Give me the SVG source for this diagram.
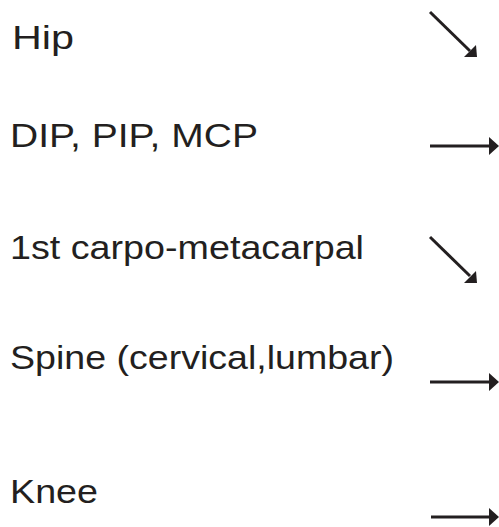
<svg xmlns="http://www.w3.org/2000/svg" width="499" height="527" viewBox="0 0 499 527">
<style>
.t{font-family:"Liberation Sans",Arial,sans-serif;font-size:34px;fill:#231f20}
.a{stroke:#231f20;stroke-width:3;fill:none}
.h{fill:#231f20}
</style>
<rect width="499" height="527" fill="#fff"/>
<g id="hip"><text class="t" x="12" y="49" textLength="62" lengthAdjust="spacingAndGlyphs">Hip</text></g>
<g id="dip"><text class="t" x="10" y="147" textLength="248" lengthAdjust="spacingAndGlyphs">DIP, PIP, MCP</text></g>
<g id="cmc"><text class="t" x="10" y="259" textLength="354" lengthAdjust="spacingAndGlyphs">1st carpo-metacarpal</text></g>
<g id="spine"><text class="t" x="10" y="369" textLength="384" lengthAdjust="spacingAndGlyphs">Spine (cervical,lumbar)</text></g>
<g id="knee"><text class="t" x="10" y="503" textLength="88" lengthAdjust="spacingAndGlyphs">Knee</text></g>
<g id="connectors">
<line class="a" x1="430" y1="12" x2="470" y2="51"/>
<polygon class="h" points="477,57 464,57 476,45"/>
<line class="a" x1="430" y1="146" x2="491" y2="146"/>
<polygon class="h" points="499,146 489,137 489,155"/>
<line class="a" x1="430" y1="237" x2="470" y2="276"/>
<polygon class="h" points="477,283 464,283 476,271"/>
<line class="a" x1="430" y1="382" x2="491" y2="382"/>
<polygon class="h" points="499,382 489,373 489,391"/>
<line class="a" x1="431" y1="517" x2="491" y2="517"/>
<polygon class="h" points="499,517 489,508 489,526"/>
</g>
</svg>
